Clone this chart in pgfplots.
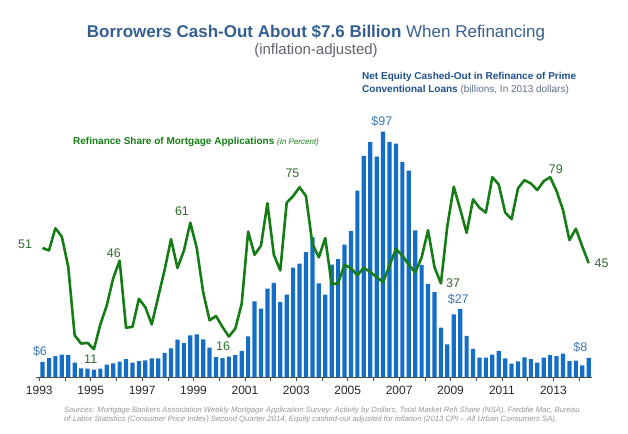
\documentclass[border=0pt]{standalone}
\usepackage{pgfplots}
\pgfplotsset{compat=1.18}
\usepackage{pgfplotstable}
\usepackage{fontspec}
\setmainfont{Liberation Sans}
\definecolor{barblue}{RGB}{20,110,200}
\definecolor{linegreen}{RGB}{22,125,22}
\definecolor{titleblue}{RGB}{52,95,145}
\definecolor{lblblue}{RGB}{60,120,180}
\definecolor{lblgreen}{RGB}{45,110,45}
\definecolor{legblue}{RGB}{30,80,140}
\definecolor{leggray}{RGB}{90,110,140}
\definecolor{subgray}{RGB}{95,100,110}
\definecolor{footgray}{RGB}{150,150,150}
\pgfplotstableread{
i bar share
0 6.0 51
1 7.5 50
2 8.3 58.8
3 8.8 55.5
4 8.6 43.6
5 5.7 16.5
6 3.4 13.2
7 3.3 13.5
8 2.9 11
9 3.3 20.8
10 4.9 28.3
11 5.4 39
12 6.1 46
13 7.1 19.5
14 5.7 19.8
15 6.3 30.9
16 6.6 27.6
17 7.4 20.8
18 7.4 31.6
19 9.5 42.3
20 11.3 54.5
21 14.8 43.1
22 13.4 49.9
23 16.5 61
24 16.8 51
25 14.9 33.5
26 11.6 22.4
27 7.9 24.1
28 7.5 19.8
29 8.1 16
30 8.6 19.1
31 10.3 29
32 16.1 57.5
33 29.9 48.3
34 27.0 51.9
35 34.9 68.7
36 37.2 48.3
37 29.6 42.1
38 32.6 68.9
39 43.2 71.5
40 44.8 75
41 49.4 71.5
42 55.2 52.6
43 37.0 47.3
44 32.6 54.9
45 44.4 36.6
46 46.6 37.1
47 52.3 44.3
48 57.7 43
49 73.7 40.2
50 87.4 43.2
51 92.9 41.5
52 87.1 39.5
53 97.0 37.5
54 92.9 44
55 92.2 50.6
56 85.0 48
57 81.6 44.4
58 58.0 41.3
59 44.3 47.3
60 36.8 58
61 33.5 43.4
62 19.5 37
63 12.9 59.7
64 24.8 75.2
65 26.8 66.3
66 16.3 57
67 11.1 70.2
68 7.7 66.9
69 7.7 65
70 8.8 79
71 10.3 76.1
72 7.4 65
73 5.3 62.4
74 6.2 74.6
75 7.8 77.8
76 7.1 76.5
77 5.7 73.9
78 7.7 77.4
79 8.6 79
80 8.3 73.5
81 9.2 66
82 6.3 54.1
83 6.5 58.6
84 4.6 51.6
85 7.6 45
}\datatable
\begin{document}
\begin{tikzpicture}[x=1pt,y=1pt]
\path[use as bounding box] (0,0) rectangle (628,433);
\begin{axis}[
  at={(36.1pt,56pt)}, anchor=south west,
  scale only axis, width=555.8pt, height=253pt,
  xmin=-1, xmax=85.5, ymin=0, ymax=100,
  axis x line*=bottom, axis y line=none, ytick=\empty,
  clip=false,
  xtick={-0.5,3.5,...,83.5},
  xticklabels={1993,,1995,,1997,,1999,,2001,,2003,,2005,,2007,,2009,,2011,,2013,},
  xtick align=outside, major tick length=4pt,
  x axis line style={draw=black!70, line width=0.6pt},
  every tick/.style={draw=black!70, line width=0.6pt},
  xticklabel style={font=\fontsize{12}{12}\selectfont, text=black!85, yshift=-1.5pt},
  /pgf/number format/assume math mode=true,
]
\addplot[ybar, bar width=4.2pt, fill=barblue, draw=none] table[x=i, y=bar] {\datatable};
\addplot[linegreen, line width=2.6pt, line join=round, mark=none] table[x=i, y=share] {\datatable};
\begin{scope}[font=\fontsize{12.5}{12.5}\selectfont]
\node[text=lblgreen] at (axis cs:-2.7,52.6) {51};
\node[text=lblgreen] at (axis cs:7.5,7.1) {11};
\node[text=lblgreen] at (axis cs:11.1,49) {46};
\node[text=lblgreen] at (axis cs:21.7,65.6) {61};
\node[text=lblgreen] at (axis cs:28.1,12.3) {16};
\node[text=lblgreen] at (axis cs:38.9,80.6) {75};
\node[text=lblgreen] at (axis cs:63.9,37.2) {37};
\node[text=lblgreen] at (axis cs:79.9,82.2) {79};
\node[text=lblgreen] at (axis cs:87,45) {45};
\node[text=lblblue] at (axis cs:-0.4,10.3) {\$6};
\node[text=lblblue] at (axis cs:52.8,101.2) {\$97};
\node[text=lblblue] at (axis cs:64.7,30.8) {\$27};
\node[text=lblblue] at (axis cs:83.7,11.9) {\$8};
\end{scope}
\end{axis}
\node[text=titleblue, font=\fontsize{17}{17}\selectfont] at (316,400) {\textbf{Borrowers Cash-Out About \$7.6 Billion} When Refinancing};
\node[text=subgray, font=\fontsize{15}{15}\selectfont] at (316,382) {(inflation-adjusted)};
\node[anchor=west, text=legblue, font=\fontsize{10}{10}\selectfont, inner sep=0pt] at (362,356) {\textbf{Net Equity Cashed-Out in Refinance of Prime}};
\node[anchor=west, text=legblue, font=\fontsize{10}{10}\selectfont, inner sep=0pt] at (362,343) {\textbf{Conventional Loans} \textcolor{leggray}{(billions, In 2013 dollars)}};
\node[anchor=west, text=linegreen, font=\fontsize{10}{10}\selectfont, inner sep=0pt] at (73,291) {\textbf{Refinance Share of Mortgage Applications} {\fontsize{8}{8}\selectfont\itshape (In Percent)}};
\node[anchor=west, text=footgray, font=\fontsize{7.7}{7.7}\selectfont\itshape, inner sep=0pt] at (64,22.5) {Sources: Mortgage Bankers Association Weekly Mortgage Application Survey: Activity by Dollars, Total Market Refi Share (NSA), Freddie Mac, Bureau};
\node[anchor=west, text=footgray, font=\fontsize{7.7}{7.7}\selectfont\itshape, inner sep=0pt] at (64,13.5) {of Labor Statistics (Consumer Price Index) Second Quarter 2014, Equity cashed-out adjusted for inflation (2013 CPI -- All Urban Consumers SA).};
\end{tikzpicture}
\end{document}
